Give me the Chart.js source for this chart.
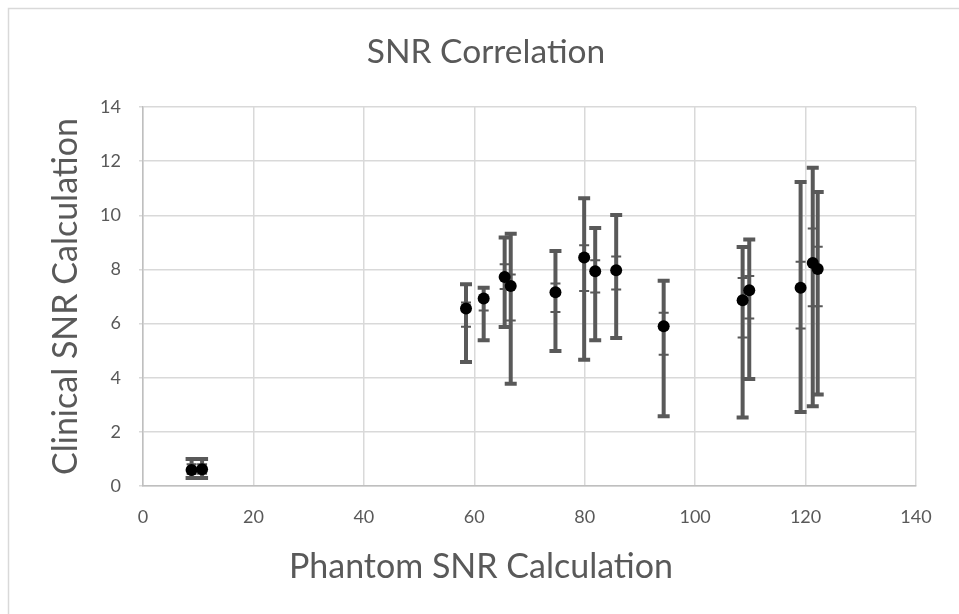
<!DOCTYPE html>
<html>
<head>
<meta charset="utf-8">
<script src="https://cdn.jsdelivr.net/npm/chart.js@4.4.1/dist/chart.umd.min.js"></script>
<style>
  html, body { margin: 0; padding: 0; background: #ffffff; }
  #wrap { width: 959px; height: 614px; }
</style>
</head>
<body>
<div id="wrap"><canvas id="myChart" width="959" height="614"></canvas></div>
<script>
// datos
const phantomSNR = [8.8, 10.7, 58.5, 61.7, 65.5, 66.6, 74.7, 79.9, 81.9, 85.7, 94.3, 108.6, 109.8, 119.1, 121.3, 122.2];
const clinicalSNR = [0.59, 0.62, 6.56, 6.93, 7.72, 7.39, 7.16, 8.44, 7.93, 7.97, 5.90, 6.86, 7.23, 7.32, 8.24, 8.02];
// barras de error externas
const outerHigh = [1.0, 1.0, 7.45, 7.32, 9.18, 9.32, 8.68, 10.63, 9.53, 10.01, 7.58, 8.83, 9.11, 11.23, 11.76, 10.86];
const outerLow = [0.3, 0.3, 4.58, 5.38, 5.87, 3.78, 4.99, 4.66, 5.38, 5.47, 2.58, 2.53, 3.95, 2.73, 2.95, 3.38];
// barras de error internas
const innerHigh = [0.8, 0.8, 6.78, 7.32, 8.19, 7.81, 7.48, 8.89, 8.34, 8.48, 6.40, 7.68, 7.76, 8.28, 9.51, 8.84];
const innerLow = [0.45, 0.45, 5.88, 6.48, 7.28, 6.11, 6.43, 7.20, 7.15, 7.26, 4.85, 5.49, 6.19, 5.82, 6.64, 6.64];
const xTicks = [0, 20, 40, 60, 80, 100, 120, 140];
const yTicks = [0, 2, 4, 6, 8, 10, 12, 14];

const chartTitle = "SNR Correlation";
const xTitle = "Phantom SNR Calculation";
const yTitle = "Clinical SNR Calculation";

const points = phantomSNR.map((x, i) => ({ x: x, y: clinicalSNR[i] }));

const textColor = "#595959";
const barColor = "#595959";

// marco del grafico + titulos (centrados sobre todo el grafico, no sobre el area)
const framePlugin = {
  id: "frame",
  beforeDraw(chart) {
    const c = chart.ctx;
    c.save();
    c.strokeStyle = "#d9d9d9";
    c.lineWidth = 1.5;
    c.beginPath();
    c.moveTo(8.5, 614);
    c.lineTo(8.5, 8.5);
    c.lineTo(959, 8.5);
    c.stroke();
    c.restore();
  },
  afterDraw(chart) {
    const c = chart.ctx;
    c.save();
    c.fillStyle = textColor;
    c.textAlign = "center";
    c.textBaseline = "middle";
    c.font = "33.5px Lato";
    c.fillText(chartTitle, 486, 52);
    c.font = "34px Lato";
    c.fillText(xTitle, 481, 567);
    c.restore();
  }
};

// barras de error
const errorBarPlugin = {
  id: "errorBars",
  beforeDatasetsDraw(chart) {
    const c = chart.ctx;
    const xs = chart.scales.x;
    const ys = chart.scales.y;
    c.save();
    c.strokeStyle = barColor;
    c.lineCap = "butt";
    phantomSNR.forEach((v, i) => {
      const px = xs.getPixelForValue(v);
      const top = ys.getPixelForValue(outerHigh[i]);
      const bot = ys.getPixelForValue(outerLow[i]);
      c.lineWidth = 4;
      c.beginPath();
      c.moveTo(px, top);
      c.lineTo(px, bot);
      c.stroke();
      c.beginPath();
      c.moveTo(px - 6, top);
      c.lineTo(px + 6, top);
      c.moveTo(px - 6, bot);
      c.lineTo(px + 6, bot);
      c.stroke();
      const iTop = ys.getPixelForValue(innerHigh[i]);
      const iBot = ys.getPixelForValue(innerLow[i]);
      c.lineWidth = 2;
      c.beginPath();
      c.moveTo(px - 5, iTop);
      c.lineTo(px + 5, iTop);
      c.moveTo(px - 5, iBot);
      c.lineTo(px + 5, iBot);
      c.stroke();
    });
    c.restore();
  }
};

new Chart(document.getElementById("myChart"), {
  type: "scatter",
  data: {
    datasets: [
      {
        label: "SNR",
        data: points,
        backgroundColor: "#000000",
        borderColor: "#000000",
        pointRadius: 6,
        pointBorderWidth: 0,
      },
    ],
  },
  options: {
    responsive: false,
    animation: false,
    layout: {
      padding: { left: 8, right: 43, top: 107, bottom: 0 },
    },
    plugins: {
      legend: { display: false },
      tooltip: { enabled: false },
      title: { display: false },
    },
    scales: {
      x: {
        type: "linear",
        min: 0,
        max: 140,
        afterBuildTicks: (scale) => { scale.ticks = xTicks.map(v => ({ value: v })); },
        afterFit: (scale) => { scale.height = 128; },
        ticks: {
          color: textColor,
          padding: 20,
          font: { family: "Lato", size: 18 },
        },
        grid: { color: "#d9d9d9", lineWidth: 1.5, drawTicks: false },
        border: { color: "#bfbfbf", width: 1.5 },
      },
      y: {
        type: "linear",
        min: 0,
        max: 14,
        afterBuildTicks: (scale) => { scale.ticks = yTicks.map(v => ({ value: v })); },
        afterFit: (scale) => { scale.width = 135; },
        ticks: {
          color: textColor,
          padding: 18,
          font: { family: "Lato", size: 18 },
        },
        grid: { color: "#d9d9d9", lineWidth: 1.5, tickLength: 4 },
        border: { color: "#bfbfbf", width: 1.5 },
        title: {
          display: true,
          text: yTitle,
          color: textColor,
          font: { family: "Lato", size: 34, weight: "normal" },
          padding: { top: 38, bottom: 0 },
        },
      },
    },
  },
  plugins: [framePlugin, errorBarPlugin],
});
</script>
</body>
</html>
